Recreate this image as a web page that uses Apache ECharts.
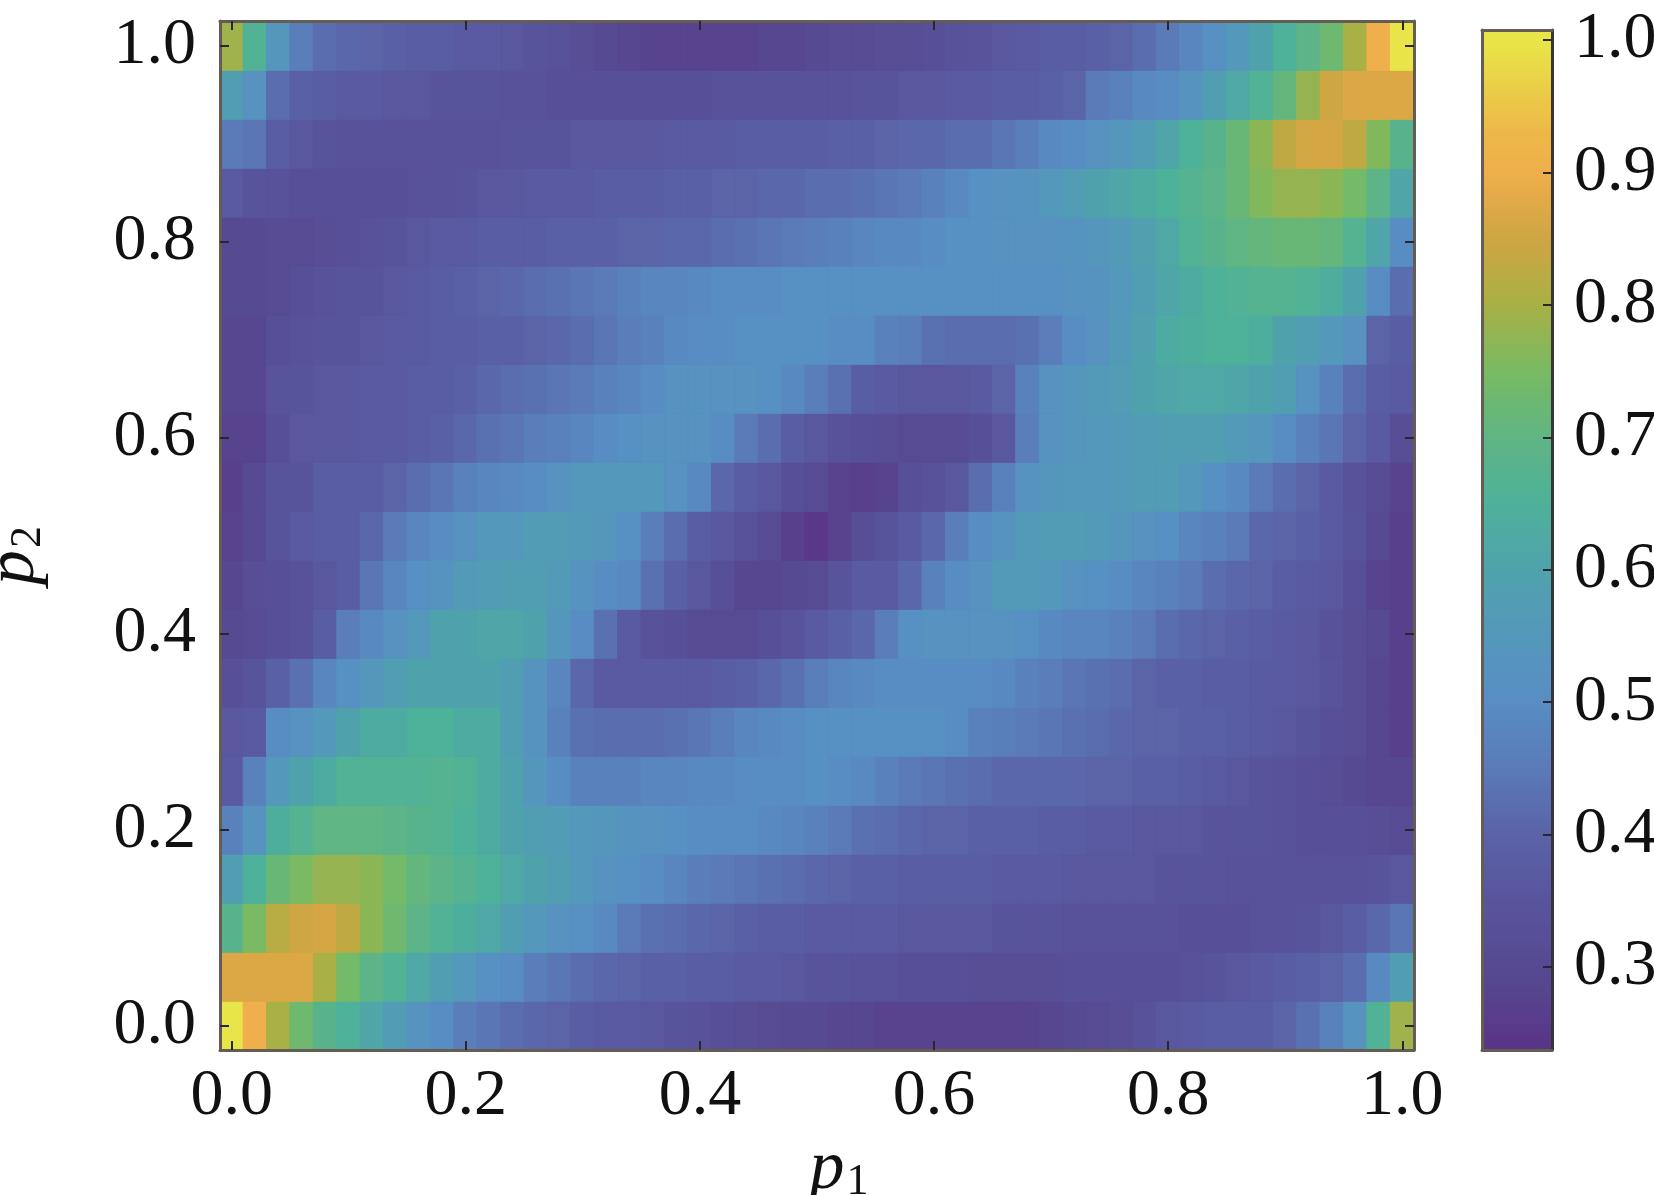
<!DOCTYPE html>
<html><head><meta charset="utf-8">
<style>html,body{margin:0;padding:0;background:#fff}#c{width:1654px;height:1195px}</style>
<script src="https://cdn.jsdelivr.net/npm/echarts@6/dist/echarts.min.js"></script>
</head><body><div id="c"></div>
<script>
// Value of the measure at p1 = 0.00, 0.02 ... 1.00, one list per p2 row
const p2_000=[1.0,.90,.80,.73,.68,.65,.61,.57,.53,.50,.46,.44,.42,.41,.40,.38,.37,.37,.36,.35,.34,.33,.32,.31,.30,.30,.29,.29,.28,.28,.28,.28,.28,.28,.28,.29,.30,.31,.32,.34,.36,.37,.38,.38,.38,.40,.43,.47,.53,.66,.79];
const p2_005=[.87,.87,.87,.87,.80,.74,.69,.66,.62,.58,.55,.51,.50,.46,.44,.42,.41,.40,.39,.39,.38,.38,.37,.37,.36,.35,.35,.34,.34,.33,.33,.33,.32,.32,.32,.32,.33,.33,.33,.33,.33,.34,.35,.36,.37,.38,.39,.40,.42,.49,.58];
const p2_010=[.68,.75,.82,.85,.86,.83,.77,.73,.69,.66,.64,.62,.58,.55,.52,.51,.49,.45,.43,.42,.41,.40,.39,.38,.38,.37,.37,.37,.37,.36,.36,.36,.36,.35,.35,.35,.34,.34,.34,.34,.34,.33,.33,.33,.34,.34,.35,.36,.38,.41,.44];
const p2_015=[.58,.65,.72,.75,.78,.78,.77,.74,.71,.69,.67,.65,.62,.60,.58,.55,.52,.51,.50,.48,.46,.45,.44,.43,.42,.41,.40,.39,.39,.38,.38,.38,.38,.37,.37,.37,.36,.36,.36,.36,.35,.35,.35,.34,.34,.34,.34,.34,.34,.35,.36];
const p2_020=[.47,.53,.64,.67,.70,.70,.70,.69,.68,.67,.65,.63,.60,.58,.57,.55,.54,.53,.52,.51,.50,.50,.50,.49,.48,.47,.45,.43,.42,.41,.40,.40,.39,.39,.39,.38,.38,.37,.37,.36,.36,.36,.35,.35,.35,.34,.33,.33,.33,.32,.31];
const p2_025=[.37,.47,.55,.60,.63,.66,.66,.66,.66,.67,.66,.63,.60,.54,.50,.47,.47,.47,.48,.48,.49,.49,.50,.50,.50,.51,.50,.49,.47,.45,.44,.43,.42,.41,.41,.41,.41,.40,.40,.39,.39,.38,.37,.36,.35,.34,.33,.32,.30,.29,.29];
const p2_030=[.36,.37,.50,.52,.55,.60,.63,.63,.65,.65,.63,.63,.58,.53,.47,.43,.42,.42,.42,.43,.44,.46,.48,.49,.50,.51,.51,.51,.51,.51,.51,.50,.47,.46,.45,.44,.43,.42,.41,.40,.40,.39,.39,.38,.37,.36,.35,.33,.32,.29,.27];
const p2_035=[.33,.35,.39,.43,.48,.51,.54,.58,.60,.60,.60,.60,.58,.53,.48,.41,.37,.37,.37,.37,.37,.38,.39,.41,.43,.46,.48,.49,.50,.50,.50,.50,.50,.49,.47,.46,.44,.43,.42,.40,.39,.39,.38,.38,.37,.37,.36,.35,.32,.29,.27];
const p2_040=[.30,.31,.33,.34,.38,.46,.49,.52,.55,.60,.60,.61,.61,.60,.54,.50,.43,.37,.34,.33,.31,.31,.31,.33,.35,.37,.39,.41,.46,.51,.52,.52,.52,.52,.51,.49,.48,.48,.47,.45,.42,.41,.40,.39,.38,.37,.36,.34,.32,.30,.27];
const p2_045=[.29,.32,.33,.34,.36,.38,.44,.48,.51,.53,.56,.57,.58,.58,.56,.53,.50,.49,.43,.39,.36,.33,.29,.29,.30,.31,.35,.37,.37,.41,.47,.50,.52,.56,.56,.55,.52,.51,.50,.48,.47,.45,.42,.41,.40,.38,.37,.36,.33,.28,.27];
const p2_050=[.28,.30,.35,.37,.38,.38,.41,.45,.48,.50,.52,.55,.55,.57,.57,.56,.54,.51,.46,.42,.38,.36,.34,.31,.27,.25,.28,.32,.35,.37,.41,.46,.50,.53,.56,.57,.57,.56,.54,.52,.51,.48,.47,.45,.41,.40,.39,.37,.35,.30,.27];
const p2_055=[.27,.30,.35,.35,.38,.38,.38,.40,.42,.44,.47,.48,.49,.50,.52,.55,.55,.55,.55,.52,.49,.41,.38,.36,.33,.31,.28,.27,.28,.33,.34,.36,.42,.47,.52,.54,.55,.55,.56,.57,.57,.55,.51,.49,.45,.42,.40,.37,.34,.31,.28];
const p2_060=[.28,.28,.33,.36,.36,.36,.37,.37,.38,.39,.41,.43,.44,.46,.47,.48,.50,.51,.52,.52,.52,.50,.45,.42,.38,.36,.34,.33,.32,.31,.31,.31,.33,.36,.46,.52,.54,.55,.56,.57,.58,.58,.58,.56,.54,.50,.47,.44,.40,.37,.32];
const p2_065=[.29,.29,.35,.35,.36,.36,.37,.37,.38,.38,.39,.41,.42,.43,.44,.45,.47,.48,.50,.52,.52,.52,.52,.51,.49,.46,.43,.38,.37,.36,.36,.36,.37,.40,.47,.52,.54,.56,.57,.60,.61,.62,.62,.61,.60,.58,.52,.47,.42,.38,.37];
const p2_070=[.29,.29,.33,.34,.35,.35,.36,.37,.37,.38,.38,.39,.39,.40,.41,.42,.44,.46,.47,.49,.50,.50,.51,.51,.51,.51,.50,.50,.47,.46,.43,.42,.42,.42,.43,.46,.50,.52,.56,.59,.63,.64,.65,.65,.64,.60,.58,.55,.52,.40,.38];
const p2_075=[.30,.30,.31,.33,.34,.35,.35,.36,.37,.38,.39,.40,.41,.42,.43,.44,.45,.47,.48,.48,.49,.50,.50,.50,.51,.51,.51,.51,.51,.51,.51,.51,.51,.51,.51,.51,.52,.53,.55,.58,.61,.63,.65,.66,.67,.67,.66,.64,.60,.50,.42];
const p2_080=[.30,.30,.31,.31,.32,.33,.34,.35,.36,.37,.37,.38,.38,.38,.39,.39,.39,.40,.40,.41,.41,.42,.43,.44,.45,.46,.47,.48,.49,.49,.50,.51,.51,.52,.52,.52,.53,.54,.56,.59,.62,.66,.68,.70,.71,.72,.72,.71,.67,.61,.50];
const p2_085=[.37,.35,.34,.33,.33,.33,.33,.33,.34,.34,.35,.36,.36,.37,.37,.37,.38,.38,.38,.39,.39,.40,.40,.41,.41,.42,.42,.43,.44,.45,.47,.49,.51,.52,.53,.55,.57,.60,.61,.63,.65,.67,.69,.72,.76,.78,.78,.77,.74,.69,.61];
const p2_090=[.45,.44,.38,.36,.35,.34,.34,.34,.34,.34,.34,.34,.35,.35,.35,.36,.36,.36,.36,.37,.37,.37,.38,.38,.38,.38,.39,.39,.40,.41,.41,.42,.42,.44,.46,.49,.50,.52,.54,.57,.61,.65,.68,.72,.77,.83,.86,.86,.83,.76,.68];
const p2_095=[.58,.52,.42,.39,.38,.37,.37,.36,.36,.35,.35,.35,.34,.34,.33,.33,.33,.33,.33,.33,.33,.34,.34,.34,.34,.34,.34,.35,.35,.36,.36,.37,.37,.38,.38,.39,.40,.45,.47,.49,.50,.53,.58,.62,.66,.71,.78,.85,.87,.87,.87];
const p2_100=[.79,.66,.54,.46,.42,.41,.40,.39,.38,.38,.37,.37,.36,.35,.34,.32,.30,.29,.28,.28,.28,.28,.28,.29,.29,.30,.31,.31,.32,.32,.33,.34,.35,.36,.37,.38,.38,.39,.40,.42,.45,.48,.51,.55,.60,.65,.69,.73,.80,.90,1.0];

const rows=[p2_000,p2_005,p2_010,p2_015,p2_020,p2_025,p2_030,p2_035,p2_040,p2_045,p2_050,p2_055,p2_060,p2_065,p2_070,p2_075,p2_080,p2_085,p2_090,p2_095,p2_100];
const p1Categories=p2_000.map((_,i)=>(i/50).toFixed(1));
const p2Categories=rows.map((_,j)=>(j/20).toFixed(1));
const colorbarTicks=[0.3,0.4,0.5,0.6,0.7,0.8,0.9,1.0];
const colorbarMin=0.2374, colorbarMax=1.0075;
const paletteColors=['#5a3486','#564a92','#58549c','#5a63a7','#5a7bb8','#588dc4','#5498bb','#4fa2ac','#4eb19a','#5fb583','#78bb62','#a8b045','#cfa542','#efae4c','#edb848','#e8e648'];
const paletteStops=[0.2374,0.30,0.35,0.40,0.45,0.50,0.55,0.60,0.65,0.70,0.75,0.80,0.85,0.90,0.93,1.0];

function hex2(c){return [1,3,5].map(k=>parseInt(c.substr(k,2),16));}
function colorAt(v){
  let k=0; while(k<paletteStops.length-2&&v>paletteStops[k+1])k++;
  const t=Math.min(1,Math.max(0,(v-paletteStops[k])/(paletteStops[k+1]-paletteStops[k])));
  const a=hex2(paletteColors[k]),b=hex2(paletteColors[k+1]);
  return 'rgb('+a.map((x,m)=>Math.round(x+(b[m]-x)*t)).join(',')+')';
}
const cells=[];
rows.forEach((r,j)=>r.forEach((v,i)=>cells.push({value:[i,j,v],itemStyle:{borderWidth:1,borderColor:colorAt(v)}})));
const ramp=[];for(let n=0;n<=80;n++)ramp.push(colorAt(colorbarMin+(colorbarMax-colorbarMin)*n/80));

const FONT='Liberation Serif';
const FRAME='#655d54', TICK='#2a2630';
const labelStyle={fontFamily:FONT,fontSize:66,color:'#111'};
const rich={i:{fontFamily:FONT,fontStyle:'italic',fontSize:70,color:'#111'},s:{fontFamily:FONT,fontSize:44,color:'#111',verticalAlign:'bottom',padding:[24,0,0,2]}};
const frame={show:true,onZero:false,lineStyle:{color:FRAME,width:3}};
const mainTick={show:true,inside:true,length:9,alignWithLabel:true,interval:9,lineStyle:{color:TICK,width:2}};
const mainTickY={show:true,inside:true,length:9,alignWithLabel:true,interval:3,lineStyle:{color:TICK,width:2}};

const chart=echarts.init(document.getElementById('c'),null,{renderer:'canvas'});
chart.setOption({
  animation:false,
  backgroundColor:'#fff',
  grid:[{left:220,top:21,width:1194,height:1029,outerBoundsMode:'none'},{left:1482,top:30,width:70,height:1020,outerBoundsMode:'none'}],
  xAxis:[
    {type:'category',gridIndex:0,position:'bottom',data:p1Categories,z:5,axisLine:frame,axisTick:mainTick,splitLine:{show:false},
     axisLabel:{...labelStyle,interval:9,margin:14,hideOverlap:false},
     name:'{i|p}{s|1}',nameLocation:'middle',nameGap:68,nameTextStyle:{rich,padding:[0,0,0,44]}},
    {type:'category',gridIndex:0,position:'top',data:p1Categories,z:5,axisLine:frame,axisTick:mainTick,axisLabel:{show:false},splitLine:{show:false}},
    {type:'value',gridIndex:1,position:'bottom',min:0,max:1,z:10,axisLine:frame,axisTick:{show:false},axisLabel:{show:false},splitLine:{show:false}},
    {type:'value',gridIndex:1,position:'top',min:0,max:1,z:10,axisLine:frame,axisTick:{show:false},axisLabel:{show:false},splitLine:{show:false}}
  ],
  yAxis:[
    {type:'category',gridIndex:0,position:'left',data:p2Categories,z:5,axisLine:frame,axisTick:mainTickY,splitLine:{show:false},
     axisLabel:{...labelStyle,interval:3,margin:24,hideOverlap:false},
     name:'{i|p}{s|2}',nameLocation:'middle',nameGap:170,nameRotate:90,nameTextStyle:{rich,padding:[0,40,0,0]}},
    {type:'category',gridIndex:0,position:'right',data:p2Categories,z:5,axisLine:frame,axisTick:mainTickY,axisLabel:{show:false},splitLine:{show:false}},
    {type:'value',gridIndex:1,position:'right',min:colorbarMin,max:colorbarMax,z:10,axisLine:{...frame,lineStyle:{color:'#3a3338',width:3}},splitLine:{show:false},
     axisTick:{show:true,inside:true,length:9,customValues:colorbarTicks,lineStyle:{color:TICK,width:2}},
     axisLabel:{...labelStyle,margin:22,customValues:colorbarTicks,formatter:v=>Number(v).toFixed(1)}},
    {type:'value',gridIndex:1,position:'left',min:colorbarMin,max:colorbarMax,z:10,axisLine:frame,axisTick:{show:false},axisLabel:{show:false},splitLine:{show:false}}
  ],
  visualMap:{type:'continuous',seriesIndex:0,min:colorbarMin,max:colorbarMax,calculable:false,realtime:false,hoverLink:false,
    left:1482,top:30,itemWidth:70,itemHeight:1020,padding:0,orient:'vertical',text:null,inRange:{color:ramp},z:2},
  series:[{type:'heatmap',xAxisIndex:0,yAxisIndex:0,data:cells,progressive:0,emphasis:{disabled:true}}]
});
</script></body></html>
